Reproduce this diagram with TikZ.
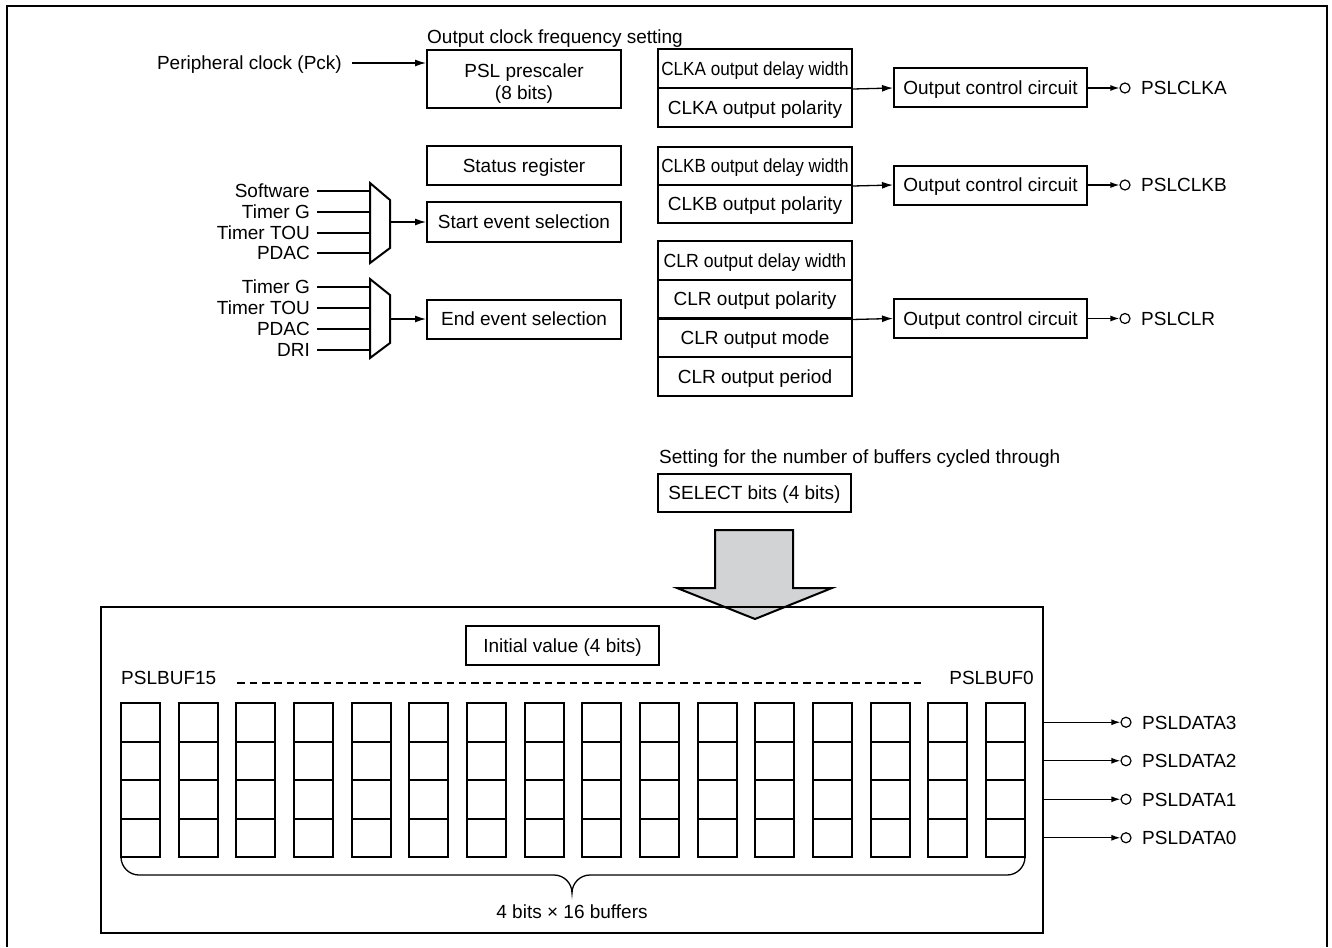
\documentclass[tikz,border=0pt]{standalone}
\usepackage{fontspec}
\setmainfont{Liberation Sans}
\usepackage{graphicx}
\usetikzlibrary{arrows.meta}
\definecolor{arrowgray}{RGB}{209,211,212}
\begin{document}
\begin{tikzpicture}[x=1pt,y=-1pt,
  every node/.style={font=\fontsize{19}{23}\selectfont, inner sep=0pt},
  lbl/.style={text height=13.7pt, text depth=0pt},
  box/.style={draw, line width=2pt, minimum width=194pt, minimum height=39pt, text height=13.7pt, text depth=0pt},
  bcell/.style={draw, line width=2pt, minimum width=39pt, minimum height=38.5pt},
  pin/.style={draw, circle, line width=1.2pt, minimum size=10pt, inner sep=0pt},
  wire/.style={line width=1.3pt},
  arr/.style={line width=1.3pt, -{Latex[length=11pt,width=7pt]}},
  arrs/.style={line width=1.3pt, -{Latex[length=9pt,width=6pt]}},
  muxline/.style={line width=2pt, line join=miter}
]
\useasboundingbox (0,0) rectangle (1332,947);
% outer frame (open at bottom)
\draw[line width=2.5pt] (7,947) -- (7,6) -- (1327,6) -- (1327,947);

% ---------- top left ----------
\node[lbl, anchor=west] (ocfs) at (427,37) {Output clock frequency setting};
\node[box, minimum height=58pt] (psl) at (524,79) {};
\node[anchor=base] (psl1) at (524,77.3) {PSL prescaler};
\node[anchor=base] (psl2) at (524,100) {(8 bits)};
\node[lbl, anchor=east] (pck) at (342,63) {Peripheral clock (Pck)};
\draw[arr] ([xshift=10pt]pck.east) -- (psl.west |- pck.east);

\node[box] (status) at (524,165.5) {Status register};
\node[box, minimum height=40pt] (start) at (524,222) {Start event selection};
\node[box] (end) at (524,319) {End event selection};

% mux 1
\draw[muxline] (370,183) -- (390,200) -- (390,248) -- (370,263) -- cycle;
\foreach \t/\y/\n in {Software/191/a, Timer G/212/b, Timer TOU/233/c, PDAC/253/d}{
  \node[lbl, anchor=east] (mi\n) at (310,\y) {\t};
  \coordinate (mc\n) at (370,\y);
  \draw[wire] ([xshift=7pt]mi\n.east) -- (mc\n);
}
\coordinate (m1o) at (390,222);
\draw[arr] (m1o) -- (start.west);

% mux 2
\draw[muxline] (370,279) -- (390,295) -- (390,343) -- (370,358) -- cycle;
\foreach \t/\y/\n in {Timer G/287/e, Timer TOU/308/f, PDAC/329/g, DRI/350/h}{
  \node[lbl, anchor=east] (mi\n) at (310,\y) {\t};
  \coordinate (mc\n) at (370,\y);
  \draw[wire] ([xshift=7pt]mi\n.east) -- (mc\n);
}
\coordinate (m2o) at (390,319);
\draw[arr] (m2o) -- (end.west);

% ---------- output registers ----------
\node[box] (ca1) at (755,68.5) {\scalebox{0.9}[1]{CLKA output delay width}};
\node[box] (ca2) at (755,107.5) {CLKA output polarity};
\node[box, minimum height=38pt] (cb1) at (755,166) {\scalebox{0.9}[1]{CLKB output delay width}};
\node[box, minimum height=38pt] (cb2) at (755,204) {CLKB output polarity};
\node[box, minimum height=38.75pt] (cr1) at (755,260.4) {\scalebox{0.93}[1]{CLR output delay width}};
\node[box, minimum height=38.75pt] (cr2) at (755,299.1) {CLR output polarity};
\node[box, minimum height=38.75pt] (cr3) at (755,337.9) {CLR output mode};
\node[box, minimum height=38.75pt] (cr4) at (755,376.6) {CLR output period};

\node[box, minimum width=193pt] (oc1) at (990.5,88) {Output control circuit};
\node[box, minimum width=193pt] (oc2) at (990.5,185) {Output control circuit};
\node[box, minimum width=193pt] (oc3) at (990.5,318.5) {Output control circuit};
\draw[arr] (ca1.south east) -- (oc1.west);
\draw[arr] (cb1.south east) -- (oc2.west);
\draw[arr] (cr2.south east) -- (oc3.west);

\node[pin] (pa) at (1125,88) {};
\node[pin] (pb) at (1125,185) {};
\node[pin] (pc) at (1125,318.5) {};
\draw[arrs] (oc1.east) -- (pa.west);
\draw[arrs] (oc2.east) -- (pb.west);
\draw[arrs] (oc3.east) -- (pc.west);
\node[lbl, anchor=west] (pal) at (1141,88) {PSLCLKA};
\node[lbl, anchor=west] (pbl) at (1141,185) {PSLCLKB};
\node[lbl, anchor=west] (pcl) at (1141,318.5) {PSLCLR};

% ---------- buffer section ----------
\node[lbl, anchor=west] (setl) at (659,457) {Setting for the number of buffers cycled through};
\node[box, minimum width=193pt, minimum height=38pt] (sel) at (754.5,493) {SELECT bits (4 bits)};

\draw[line width=2pt, fill=arrowgray, line join=miter] (715,530) -- (793,530) -- (793,588) -- (832,588) -- (755,619) -- (677,588) -- (715,588) -- cycle;

\node[draw, line width=1.4pt, minimum width=942pt, minimum height=326pt] (frame) at (572,770) {};

\node[box, minimum width=193pt] (init) at (562.5,645.5) {Initial value (4 bits)};
\node[lbl, anchor=west] (pb15) at (121,678) {PSLBUF15};
\node[lbl, anchor=east] (pb0) at (1034,678) {PSLBUF0};
\draw[line width=1.2pt, dash pattern=on 7.5pt off 4.8pt] ([xshift=21pt]pb15.east |- 0,683) -- ([xshift=-25pt]pb0.west |- 0,683);

\foreach \i in {0,...,15}{
  \foreach \j in {0,...,3}{
    \node[bcell] (b\i r\j) at ({140.5+57.67*\i},{722.25+38.5*\j}) {};
  }
}

\foreach \j/\n in {0/3,1/2,2/1,3/0}{
  \node[pin] (pd\n) at (1126,{722.25+38.5*\j}) {};
  \draw[arrs] (frame.east |- b15r\j) -- (pd\n.west);
  \node[lbl, anchor=west] (pdl\n) at (1142,{722.25+38.5*\j}) {PSLDATA\n};
}

\draw[line width=1.3pt] (121,857) .. controls (121,866.9) and (129.1,875) .. (139,875) -- (554,875)
  .. controls (563.9,875) and (572,883.1) .. (572,893)
  .. controls (572,883.1) and (580.1,875) .. (590,875) -- (1007,875)
  .. controls (1016.9,875) and (1025,866.9) .. (1025,857);
\node[lbl] (cnt) at (572,912) {4 bits × 16 buffers};
\end{tikzpicture}
\end{document}
